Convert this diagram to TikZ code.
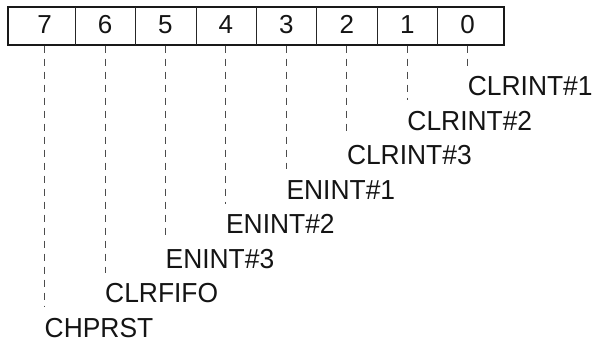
\documentclass[tikz,border=0pt]{standalone}
\usepackage{graphicx}
\usepackage{fontspec}
\setmainfont{Liberation Sans}
\newcommand{\narrowtxt}[1]{\scalebox{0.96}[1]{#1}}
\begin{document}
\begin{tikzpicture}[x=1pt,y=-1pt,
  boxline/.style={line width=2pt,draw=black!90},
  divline/.style={line width=0.9pt,draw=black!85},
  leader/.style={draw=black!70,line width=1pt,dash pattern=on 7.3pt off 5.7pt},
  bitnum/.style={font=\fontsize{26}{30}\selectfont,text=black!92,inner sep=0pt,anchor=base},
  fieldlbl/.style={font=\fontsize{27.5}{32}\selectfont,text=black!92,inner sep=0pt,anchor=base west}]
\useasboundingbox (0,0) rectangle (595,344);
% register
\draw[boxline] (7.8,7.3) rectangle (503.5,44.7);
\foreach \dx in {75,135.7,196,256.7,316.7,377.3,437.7}
  \draw[divline] (\dx,7.3) -- (\dx,44.7);
% bit numbers
\foreach \b in {7,6,5,4,3,2,1,0}{
  \pgfmathsetmacro{\cx}{467.7-60.45*\b}
  \node[bitnum] (n\b) at (\cx,33.3) {\b};
}
% labels and leaders
\foreach \b/\lab [count=\k from 0] in {0/CLRINT\#1,1/CLRINT\#2,2/CLRINT\#3,3/ENINT\#1,4/ENINT\#2,5/ENINT\#3,6/CLRFIFO,7/CHPRST}{
  \pgfmathsetmacro{\lx}{467.7-60.45*\b}
  \pgfmathsetmacro{\by}{96+34.43*\k}
  \coordinate (t\b) at (\lx,45.7);
  \node[fieldlbl] (l\b) at (\lx,\by) {\narrowtxt{\lab}};
  \coordinate (e\b) at (\lx,\by-30);
  \draw[leader] (t\b) -- (e\b);
}
\end{tikzpicture}
\end{document}
